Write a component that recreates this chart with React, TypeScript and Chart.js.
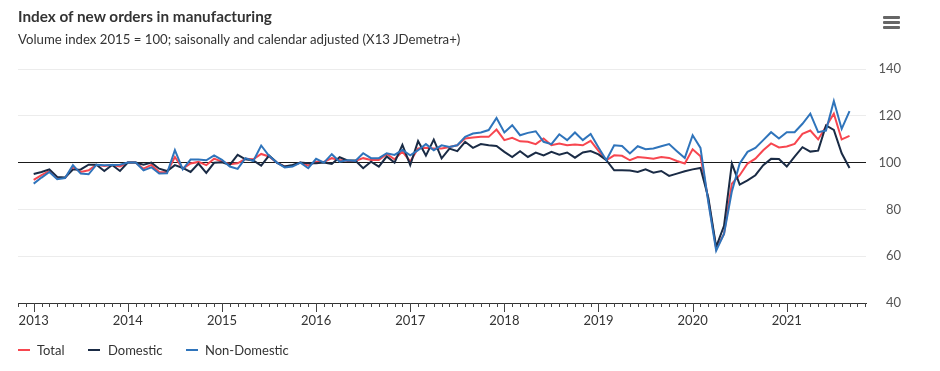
import React, { useEffect, useRef } from 'react';
import { Chart, registerables } from 'chart.js';

Chart.register(...registerables);

// Month index 0 = Jan 2013
const years = ['2013', '2014', '2015', '2016', '2017', '2018', '2019', '2020', '2021'];

const total = [
  92.6, 94.6, 96.4, 93.4, 93.4, 98.1, 96.0, 96.7, 99.1, 98.6, 99.0, 98.4,
  100.0, 100.0, 97.4, 99.0, 96.0, 95.9, 102.4, 97.4, 99.6, 100.3, 98.9, 101.7,
  100.4, 99.3, 99.7, 101.6, 101.4, 103.7, 102.6, 100.0, 98.3, 98.7, 100.0, 98.7,
  100.4, 100.3, 101.9, 101.1, 100.7, 100.7, 101.9, 101.1, 101.1, 103.7, 101.4, 104.7,
  100.5, 106.0, 106.3, 106.0, 106.0, 106.7, 107.4, 110.3, 110.7, 111.0, 111.0, 114.1,
  109.6, 110.6, 109.1, 108.9, 107.9, 110.3, 107.4, 108.1, 107.4, 107.7, 107.4, 109.3,
  105.0, 101.0, 103.1, 102.9, 101.0, 102.4, 102.1, 101.7, 102.4, 102.0, 100.7, 99.6,
  105.7, 102.7, 84.0, 63.2, 69.5, 91.0, 94.6, 99.6, 101.7, 105.3, 108.2, 106.5,
  106.9, 108.0, 112.3, 113.7, 109.9, 115.4, 120.9, 109.9, 111.4,
];

const domestic = [
  95.1, 96.0, 97.1, 93.9, 93.6, 97.0, 97.1, 99.1, 99.1, 96.4, 99.0, 96.4,
  100.0, 100.0, 99.1, 100.0, 97.4, 96.4, 98.9, 97.7, 96.0, 99.6, 95.6, 99.9,
  100.1, 99.0, 103.3, 101.4, 100.9, 98.7, 103.0, 100.0, 98.3, 99.0, 100.0, 99.7,
  99.7, 100.0, 99.4, 102.3, 100.9, 100.9, 97.6, 100.4, 98.3, 102.6, 100.0, 107.6,
  99.0, 109.2, 103.0, 109.8, 101.8, 106.0, 104.9, 108.9, 106.3, 107.9, 107.4, 107.1,
  104.6, 102.4, 104.9, 102.4, 104.3, 103.1, 104.6, 103.4, 104.3, 102.1, 104.3, 104.9,
  103.5, 101.0, 96.7, 96.7, 96.6, 96.0, 97.1, 95.7, 96.4, 94.3, 95.3, 96.3,
  97.1, 97.7, 85.0, 64.0, 73.0, 99.6, 90.6, 92.4, 94.6, 98.9, 101.6, 101.5,
  98.3, 102.6, 106.6, 104.7, 105.1, 115.9, 114.0, 104.0, 97.7,
];

const nonDomestic = [
  91.0, 93.6, 96.0, 92.9, 93.4, 98.9, 95.3, 95.0, 99.1, 98.9, 99.0, 99.1,
  100.0, 100.0, 96.7, 98.0, 95.3, 95.4, 105.3, 97.1, 101.3, 101.3, 101.0, 103.1,
  101.2, 98.3, 97.3, 101.9, 100.7, 107.3, 102.9, 100.0, 97.9, 98.3, 100.0, 97.6,
  101.6, 100.0, 103.6, 100.4, 101.0, 100.7, 104.0, 101.9, 101.9, 104.0, 103.3, 105.4,
  103.1, 105.3, 107.9, 105.3, 107.4, 106.7, 107.4, 111.0, 112.4, 112.9, 113.9, 119.1,
  112.9, 116.0, 111.7, 112.7, 113.4, 108.9, 107.9, 112.1, 109.6, 112.9, 109.6, 112.2,
  106.5, 101.0, 107.4, 107.1, 103.9, 107.0, 105.7, 106.0, 107.0, 107.9, 104.9, 102.0,
  111.7, 106.3, 83.0, 62.4, 69.5, 87.7, 99.6, 104.6, 106.3, 109.6, 113.0, 110.3,
  113.0, 113.0, 116.6, 120.9, 113.0, 113.7, 126.3, 114.4, 122.0,
];

const seriesNames = ['Total', 'Domestic', 'Non-Domestic'];
const seriesColors = ['#f7464f', '#1a2b45', '#2f74bb'];

const X_MIN = -2;
const X_MAX = 106.1;
const Y_MIN = 40;
const Y_MAX = 140;
const Y_STEP = 20;
const REFERENCE_VALUE = 100;

const FONT = 'Lato, "Noto Sans", sans-serif';

const monthTicksPlugin = {
  id: 'monthTicks',
  afterDraw(chart: any) {
    const s = chart.scales.x;
    const ctx = chart.ctx;
    const y0 = chart.chartArea.bottom;
    ctx.save();
    ctx.strokeStyle = '#444';
    ctx.lineWidth = 1;
    s.ticks.forEach((t: any) => {
      const x = Math.round(s.getPixelForValue(t.value)) + 0.5;
      const len = t.value % 12 === 0 ? 9 : 4;
      ctx.beginPath();
      ctx.moveTo(x, y0);
      ctx.lineTo(x, y0 + len);
      ctx.stroke();
    });
    ctx.restore();
  },
};

function ChartView() {
  const ref = useRef<HTMLCanvasElement | null>(null);

  useEffect(() => {
    if (!ref.current) return;
    const series = [total, domestic, nonDomestic];
    const chart = new Chart(ref.current, {
      type: 'line',
      data: {
        datasets: series.map((arr, k) => ({
          label: seriesNames[k],
          data: arr.map((v, i) => ({ x: i, y: v })),
          borderColor: seriesColors[k],
          backgroundColor: seriesColors[k],
          borderWidth: 2,
          pointRadius: 0,
          tension: 0,
          fill: false,
          order: 3 - k,
        })),
      },
      options: {
        animation: false,
        responsive: false,
        devicePixelRatio: 1,
        events: [],
        layout: { padding: { left: 9, right: 31, top: 61, bottom: 30 } },
        plugins: {
          legend: { display: false },
          tooltip: { enabled: false },
          title: { display: false },
        },
        scales: {
          x: {
            type: 'linear',
            min: X_MIN,
            max: X_MAX,
            afterBuildTicks: (scale: any) => {
              const t: any[] = [];
              for (let i = Math.ceil(X_MIN); i <= Math.floor(X_MAX); i++) t.push({ value: i });
              scale.ticks = t;
            },
            afterFit: (scale: any) => {
              scale.height = 30;
            },
            grid: { display: false, drawTicks: false },
            border: { display: true, color: '#333', width: 1 },
            ticks: {
              autoSkip: false,
              maxRotation: 0,
              minRotation: 0,
              padding: 10,
              color: '#333',
              font: { family: FONT, size: 13 },
              callback: (value: any) => {
                const v = Number(value);
                if (v >= 0 && v % 12 === 0) return years[v / 12] ?? '';
                return '';
              },
            },
          },
          y: {
            position: 'right',
            min: Y_MIN,
            max: Y_MAX,
            afterFit: (scale: any) => {
              scale.width = 35;
            },
            grid: {
              drawTicks: false,
              color: (c: any) => (c.tick && c.tick.value === REFERENCE_VALUE ? '#1a1a1a' : '#ececec'),
              lineWidth: 1,
            },
            border: { display: false },
            ticks: {
              stepSize: Y_STEP,
              padding: 0,
              crossAlign: 'far',
              color: '#555',
              font: { family: FONT, size: 13 },
            },
          },
        },
      } as any,
      plugins: [monthTicksPlugin],
    });
    return () => chart.destroy();
  }, []);

  return <canvas ref={ref} width={924} height={355} style={{ position: 'absolute', left: 0, top: 0 }} />;
}

export default function App() {
  const legendPos = [
    { marker: 10, text: 29 },
    { marker: 80, text: 100 },
    { marker: 178, text: 197 },
  ];
  return (
    <div style={{ position: 'relative', width: 924, height: 355, fontFamily: FONT, background: '#fff' }}>
      <ChartView />
      <div
        style={{
          position: 'absolute', left: 10, top: -1, fontSize: 15.3, lineHeight: '18px',
          fontWeight: 700, color: '#333', whiteSpace: 'nowrap',
        }}
      >
        Index of new orders in manufacturing
      </div>
      <div
        style={{
          position: 'absolute', left: 10, top: 23, fontSize: 13.2, lineHeight: '16px',
          color: '#333', whiteSpace: 'nowrap',
        }}
      >
        Volume index 2015 = 100; saisonally and calendar adjusted (X13 JDemetra+)
      </div>
      <div style={{ position: 'absolute', left: 875, top: 7, width: 17, height: 14 }}>
        {[0, 5, 10].map((t) => (
          <div key={t} style={{ position: 'absolute', left: 0, top: t + 1, width: 17, height: 2.5, background: '#666', borderRadius: 1 }} />
        ))}
      </div>
      {seriesNames.map((name, k) => (
        <React.Fragment key={name}>
          <div
            style={{
              position: 'absolute', left: legendPos[k].marker, top: 341, width: 12, height: 2,
              background: seriesColors[k],
            }}
          />
          <div
            style={{
              position: 'absolute', left: legendPos[k].text, top: 334, fontSize: 13, lineHeight: '16px',
              color: '#333', whiteSpace: 'nowrap',
            }}
          >
            {name}
          </div>
        </React.Fragment>
      ))}
    </div>
  );
}
